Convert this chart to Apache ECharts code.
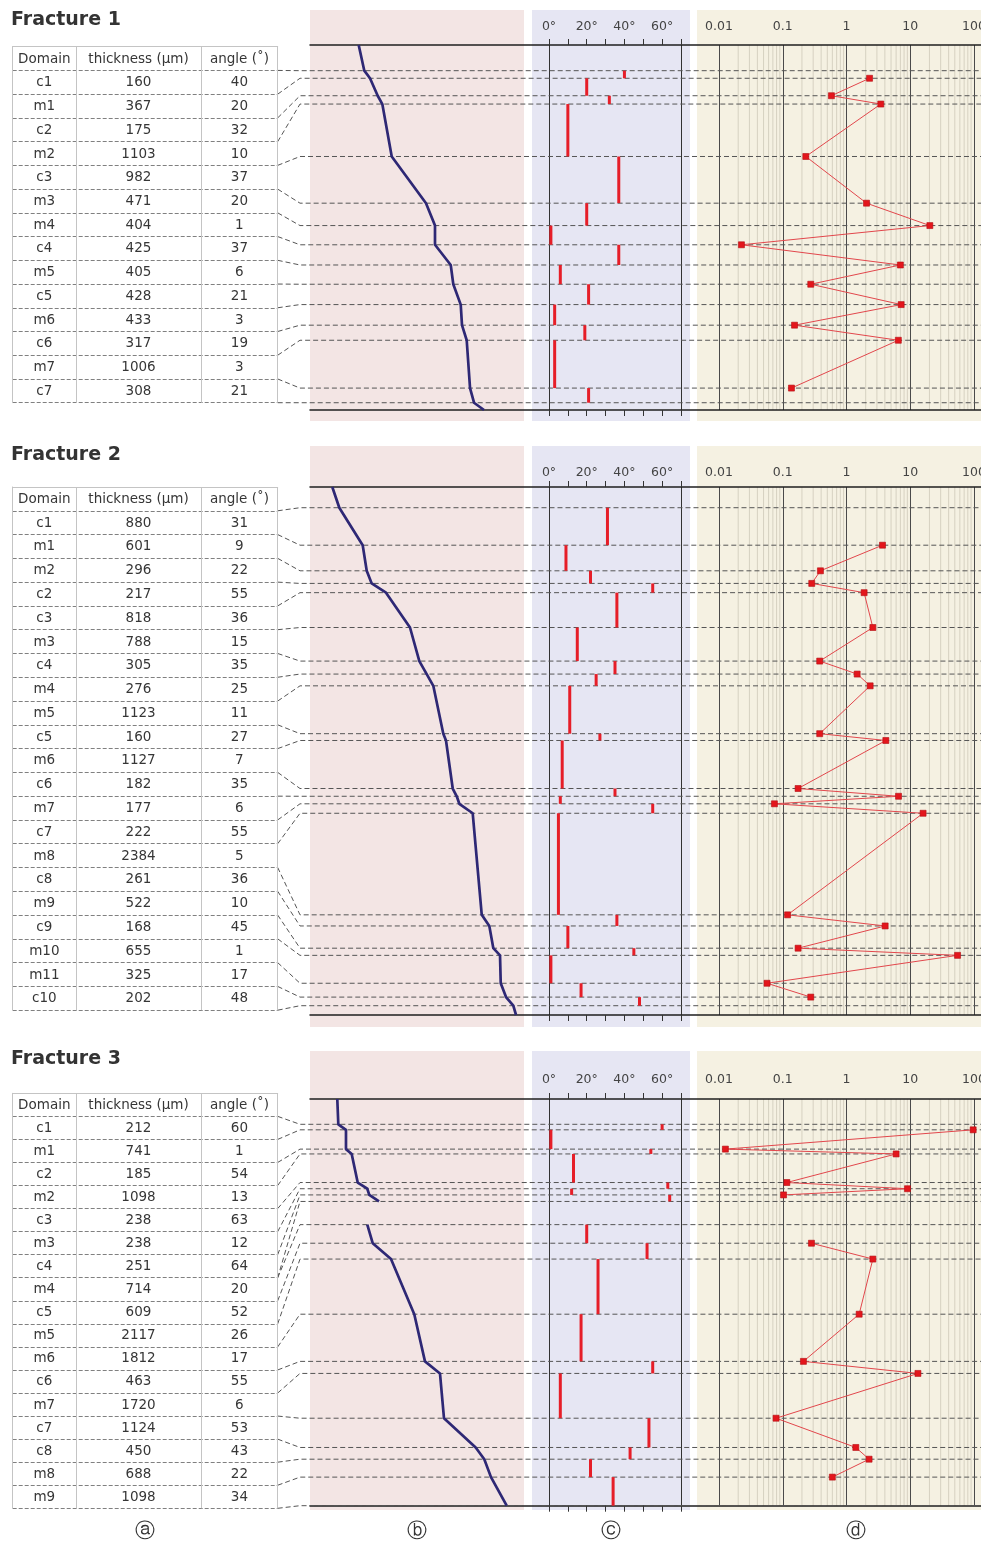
<!DOCTYPE html>
<html><head><meta charset="utf-8">
<script src="https://cdn.jsdelivr.net/npm/echarts@6/dist/echarts.min.js"></script>
<style>html,body{margin:0;padding:0;background:#fff}#c{width:981px;height:1544px}</style>
</head><body><div id="c"></div>
<script>
// ---------------- DATA ----------------
const titles = ['Fracture 1', 'Fracture 2', 'Fracture 3'];
const tableHeader = ['Domain', 'thickness (\u03bcm)', 'angle (\u02da)'];
const angleTickLabels = ['0\u00b0', '20\u00b0', '40\u00b0', '60\u00b0'];
const logTickLabels = ['0.01', '0.1', '1', '10', '100'];
const panelTags = ['\u24d0', '\u24d1', '\u24d2', '\u24d3'];

// Fracture 1
const domains1 = ['c1','m1','c2','m2','c3','m3','m4','c4','m5','c5','m6','c6','m7','c7'];
const thickness1 = [160,367,175,1103,982,471,404,425,405,428,433,317,1006,308];
const angle1 = [40,20,32,10,37,20,1,37,6,21,3,19,3,21];
const gap1 = [0,0,0,0,0,0,0,0,0,0,0,0,0,0];
const ratio1 = [2.3,0.58,3.45,0.23,2.06,20.3,0.0225,7.0,0.275,7.2,0.153,6.5,0.137];
const profile1 = [1024,1142,1262,1424,1521,1719,2440,2629,2629,2960,3014,3170,3197,3296,3366,3450,3660];

// Fracture 2
const domains2 = ['c1','m1','m2','c2','c3','m3','c4','m4','m5','c5','m6','c6','m7','c7','m8','c8','m9','c9','m10','m11','c10'];
const thickness2 = [880,601,296,217,818,788,305,276,1123,160,1127,182,177,222,2384,261,522,168,655,325,202];
const angle2 = [31,9,22,55,36,15,35,25,11,27,7,35,6,55,5,36,10,45,1,17,48];
const gap2 = [0,0,0,0,0,0,0,0,0,0,0,0,0,0,0,0,0,0,0,0,0];
const ratio2 = [3.67,0.39,0.285,1.89,2.59,0.38,1.47,2.35,0.38,4.14,0.174,6.55,0.074,15.9,0.119,4.04,0.174,55.2,0.0567,0.275];
const profile2 = [523,688,1237,1331,1448,1784,2347,2566,2739,2894,3129,3192,3350,3444,3505,3819,4031,4209,4303,4460,4477,4601,4772,4836];

// Fracture 3
const domains3 = ['c1','m1','c2','m2','c3','m3','c4','m4','c5','m5','m6','c6','m7','c7','c8','m8','m9'];
const thickness3 = [212,741,185,1098,238,238,251,714,609,2117,1812,463,1720,1124,450,688,1098];
const angle3 = [60,1,54,13,63,12,64,20,52,26,17,55,6,53,43,22,34];
const gap3 = [0,0,0,0,0,0,0,890,0,0,0,0,0,0,0,0,0];
const ratio3 = [97,0.0126,6.0,0.116,9.06,0.103,null,0.282,2.59,1.58,0.211,13.2,0.0785,1.4,2.26,0.6];
const profile3 = [1048,1087,1382,1382,1601,1832,2200,2277,2650,null,2200,2408,3111,4005,4416,4992,5146,6363,6694,6951,7554,7554];

// ---------------- LAYOUT ----------------
const FONT = '"DejaVu Sans", Verdana, sans-serif';
const fractures = [
  {domains: domains1, thickness: thickness1, angle: angle1, gap: gap1, ratio: ratio1, profile: profile1},
  {domains: domains2, thickness: thickness2, angle: angle2, gap: gap2, ratio: ratio2, profile: profile2},
  {domains: domains3, thickness: thickness3, angle: angle3, gap: gap3, ratio: ratio3, profile: profile3}
];
const L = [
  {titleTop: 11, tableTop: 46.7, tableBot: 402.7, axTop: 45, axBot: 410, dMin: -540, dMax: 7137, bgTop: 10, bgBot: 421, lm: 12},
  {titleTop: 446, tableTop: 487, tableBot: 1010.2, axTop: 487, axBot: 1015, dMin: -486, dMax: 11907, bgTop: 446, bgBot: 1027, lm: 8},
  {titleTop: 1050, tableTop: 1093.3, tableBot: 1508.3, axTop: 1099, axBot: 1505.7, dMin: -972, dMax: 14648, bgTop: 1051, bgBot: 1510, lm: 13}
];
const TABLE_W = 265;
const colCenters = [31.6, 125.8, 226.7];
const colLines = [63.3, 188.3, 265];
const logMinor = [];
[0.01, 0.1, 1, 10].forEach(d => { for (let k = 2; k <= 9; k++) logMinor.push(d * k); });

const grid = [], xAxis = [], yAxis = [], series = [];
const meta = [];
const noAxis = {axisLine:{show:false,onZero:false}, axisTick:{show:false}, axisLabel:{show:false}, splitLine:{show:false}};

function addGrid(g) { grid.push(Object.assign({containLabel:false, outerBoundsMode:'none'}, g)); return grid.length - 1; }
function addX(a) { xAxis.push(a); return xAxis.length - 1; }
function addY(a) { yAxis.push(a); return yAxis.length - 1; }

fractures.forEach((F, f) => {
  const Lf = L[f];
  const n = F.domains.length;
  const start = [], end = [];
  let pos = 0;
  for (let i = 0; i < n; i++) { pos += F.gap[i]; start.push(pos); pos += F.thickness[i]; end.push(pos); }
  const axH = Lf.axBot - Lf.axTop;
  const s = axH / (Lf.dMax - Lf.dMin);
  const W = 214 / s;

  // backgrounds
  [[310, 214, '#f3e5e4'], [532, 158, '#e6e6f3'], [697, 284, '#f5f1e2']].forEach(b => {
    const g = addGrid({left: b[0], top: Lf.bgTop, width: b[1], height: Lf.bgBot - Lf.bgTop, show: true, backgroundColor: b[2], borderWidth: 0});
    addX(Object.assign({gridIndex: g, type: 'value', show: false}, noAxis));
    addY(Object.assign({gridIndex: g, type: 'value', show: false}, noAxis));
  });

  // table
  const gT = addGrid({left: 12.7, top: Lf.tableTop, width: TABLE_W, height: Lf.tableBot - Lf.tableTop});
  const xT = addX({gridIndex: gT, type: 'value', min: 0, max: TABLE_W, position: 'top',
    axisLine: {show: true, onZero: false, lineStyle: {color: '#c4c4c4', width: 1}},
    axisTick: {show: false}, axisLabel: {show: false}, splitLine: {show: false}});
  const yT = addY({gridIndex: gT, type: 'category', inverse: true, data: [''].concat(F.domains), boundaryGap: true,
    axisLine: {show: true, onZero: false, lineStyle: {color: '#c4c4c4', width: 1}},
    axisTick: {show: false}, axisLabel: {show: false, interval: 0},
    splitLine: {show: true, interval: 0, lineStyle: {color: '#808080', type: [4, 2], width: 1}}});
  const rows = [tableHeader].concat(F.domains.map((d, i) => [d, String(F.thickness[i]), String(F.angle[i])]));
  series.push({type: 'custom', xAxisIndex: xT, yAxisIndex: yT, silent: true, z: 3,
    data: rows.map((r, i) => [0, i]),
    renderItem: (params, api) => {
      const i = params.dataIndex;
      const r = rows[i];
      const y = api.coord([0, i])[1];
      return {type: 'group', children: colCenters.map((cx, k) => ({
        type: 'text',
        style: {text: r[k], x: api.coord([cx, i])[0], y: y + 0.5, align: 'center', verticalAlign: 'middle',
          fill: '#363636', font: '13.5px ' + FONT}
      }))};
    },
    markLine: {silent: true, symbol: ['none', 'none'], label: {show: false}, animation: false,
      lineStyle: {color: '#c4c4c4', type: 'solid', width: 1},
      data: colLines.map(v => ({xAxis: v}))}
  });

  // panel b: profile
  const gB = addGrid({left: 310, top: Lf.axTop, width: 214, height: axH});
  const xB = addX(Object.assign({gridIndex: gB, type: 'value', min: 0, max: W, show: false}, noAxis));
  const yB = addY(Object.assign({gridIndex: gB, type: 'value', min: Lf.dMin, max: Lf.dMax, inverse: true, show: false}, noAxis));
  const vDepth = [Lf.dMin, start[0]];
  for (let i = 0; i < n; i++) {
    vDepth.push(end[i]);
    if (i + 1 < n && F.gap[i + 1] > 0) { vDepth.push(null); vDepth.push(start[i + 1]); }
  }
  vDepth.push(Lf.dMax);
  series.push({type: 'line', xAxisIndex: xB, yAxisIndex: yB, silent: true, z: 5,
    data: vDepth.map((d, k) => (d === null || F.profile[k] === null) ? ['-', '-'] : [F.profile[k], d]),
    symbol: 'none', showSymbol: false, connectNulls: false,
    lineStyle: {color: '#2e2875', width: 2.7, join: 'round'}});

  // panel c: angle bars
  const gC = addGrid({left: 549, top: Lf.axTop, width: 132, height: axH});
  const xC = addX({gridIndex: gC, type: 'value', min: 0, max: 70, interval: 10, position: 'top',
    axisLine: {show: false, onZero: false},
    axisTick: {show: true, inside: false, length: 6, lineStyle: {color: '#333', width: 1}},
    axisLabel: {show: true, margin: Lf.lm, color: '#444', fontSize: 12.5, fontFamily: FONT,
      formatter: v => (v % 20 === 0 && angleTickLabels[v / 20]) ? angleTickLabels[v / 20] : ''},
    splitLine: {show: false}});
  addX({gridIndex: gC, type: 'value', min: 0, max: 70, interval: 10, position: 'bottom',
    axisLine: {show: false, onZero: false},
    axisTick: {show: true, inside: false, length: 6, lineStyle: {color: '#333', width: 1}},
    axisLabel: {show: false}, splitLine: {show: false}});
  const yC = addY({gridIndex: gC, type: 'value', min: Lf.dMin, max: Lf.dMax, inverse: true, position: 'left',
    axisLine: {show: true, onZero: false, lineStyle: {color: '#333', width: 1}},
    axisTick: {show: false}, axisLabel: {show: false}, splitLine: {show: false}});
  addY({gridIndex: gC, type: 'value', min: Lf.dMin, max: Lf.dMax, inverse: true, position: 'right',
    axisLine: {show: true, onZero: false, lineStyle: {color: '#333', width: 1}},
    axisTick: {show: false}, axisLabel: {show: false}, splitLine: {show: false}});
  series.push({type: 'custom', xAxisIndex: xC, yAxisIndex: yC, silent: true, z: 5,
    data: F.angle.map((a, i) => [a, start[i], end[i]]),
    encode: {x: 0, y: [1, 2]},
    renderItem: (params, api) => {
      const a = api.value(0);
      const p0 = api.coord([a, api.value(1)]);
      const p1 = api.coord([a, api.value(2)]);
      return {type: 'rect', shape: {x: p0[0] - 1.5, y: p0[1], width: 3, height: p1[1] - p0[1]},
        style: {fill: '#e61e28'}};
    }});

  // panel d: log values
  const gD = addGrid({left: 719, top: Lf.axTop, width: 255, height: axH});
  const xD = addX({gridIndex: gD, type: 'log', logBase: 10, min: 0.01, max: 100, position: 'top',
    axisLine: {show: false, onZero: false}, axisTick: {show: false},
    axisLabel: {show: true, margin: Lf.lm, color: '#444', fontSize: 12.5, fontFamily: FONT,
      formatter: v => logTickLabels[Math.round(Math.log10(v)) + 2] || ''},
    splitLine: {show: true, lineStyle: {color: '#4a4a4a', width: 1}}});
  const yD = addY(Object.assign({gridIndex: gD, type: 'value', min: Lf.dMin, max: Lf.dMax, inverse: true, show: false}, noAxis));
  series.push({type: 'custom', xAxisIndex: xD, yAxisIndex: yD, silent: true, z: 0,
    data: logMinor.map(v => [v, Lf.dMin]),
    renderItem: (params, api) => {
      const a = api.coord([api.value(0), Lf.dMin]);
      const b = api.coord([api.value(0), Lf.dMax]);
      return {type: 'line', shape: {x1: a[0], y1: a[1], x2: b[0], y2: b[1]}, style: {stroke: '#d6d1c1', lineWidth: 1}};
    }});
  series.push({type: 'line', xAxisIndex: xD, yAxisIndex: yD, silent: true, z: 5,
    data: F.ratio.map((r, i) => r === null ? ['-', '-'] : [r, end[i]]),
    symbol: 'rect', symbolSize: 6, showSymbol: true, connectNulls: false,
    itemStyle: {color: '#e3161c', borderColor: '#b40d12', borderWidth: 0.6},
    lineStyle: {color: '#e2474c', width: 1}});

  // frame lines
  const gF = addGrid({left: 310, top: Lf.axTop, width: 671, height: axH});
  ['top', 'bottom'].forEach(p => addX({gridIndex: gF, type: 'value', min: 0, max: 1, position: p,
    axisLine: {show: true, onZero: false, lineStyle: {color: '#1f1f1f', width: 1.5}},
    axisTick: {show: false}, axisLabel: {show: false}, splitLine: {show: false}}));
  addY(Object.assign({gridIndex: gF, type: 'value', min: 0, max: 1, show: false}, noAxis));

  meta.push({xT, yT, yB, start, end, n});
});

const option = {
  animation: false,
  backgroundColor: '#ffffff',
  title: titles.map((t, f) => ({text: t, left: 11, top: L[f].titleTop, padding: 0,
    textStyle: {fontFamily: FONT, fontSize: 19, fontWeight: 'bold', color: '#333'}})),
  grid, xAxis, yAxis, series
};

const chart = echarts.init(document.getElementById('c'), null, {renderer: 'canvas', width: 981, height: 1544});
chart.setOption(option);

// connectors + dashed boundary lines through the panels (pixel positions via the axes)
const els = [];
fractures.forEach((F, f) => {
  const m = meta[f];
  const c0 = chart.convertToPixel({yAxisIndex: m.yT}, 0);
  const band = chart.convertToPixel({yAxisIndex: m.yT}, 1) - c0;
  const xr = chart.convertToPixel({xAxisIndex: m.xT}, TABLE_W);
  for (let j = 0; j <= m.n; j++) {
    const sy = c0 + band * (j + 0.5);
    const targets = [];
    if (j === 0) targets.push(m.start[0]);
    else {
      targets.push(m.end[j - 1]);
      if (j < m.n && F.gap[j] > 0) targets.push(m.start[j]);
    }
    targets.forEach(d => {
      const by = chart.convertToPixel({yAxisIndex: m.yB}, d);
      els.push({type: 'polyline', z: 1, silent: true,
        shape: {points: [[xr, sy], [300, by], [981, by]]},
        style: {stroke: '#555555', lineWidth: 1, lineDash: [5, 3], fill: 'none'}});
    });
  }
});
[145, 417, 611, 856].forEach((x, k) => {
  els.push({type: 'text', x: x, y: 1532, silent: true,
    style: {text: panelTags[k], font: '20px ' + FONT, fill: '#333', align: 'center', verticalAlign: 'middle'}});
});
chart.setOption({graphic: {elements: els}});
</script>
</body></html>
